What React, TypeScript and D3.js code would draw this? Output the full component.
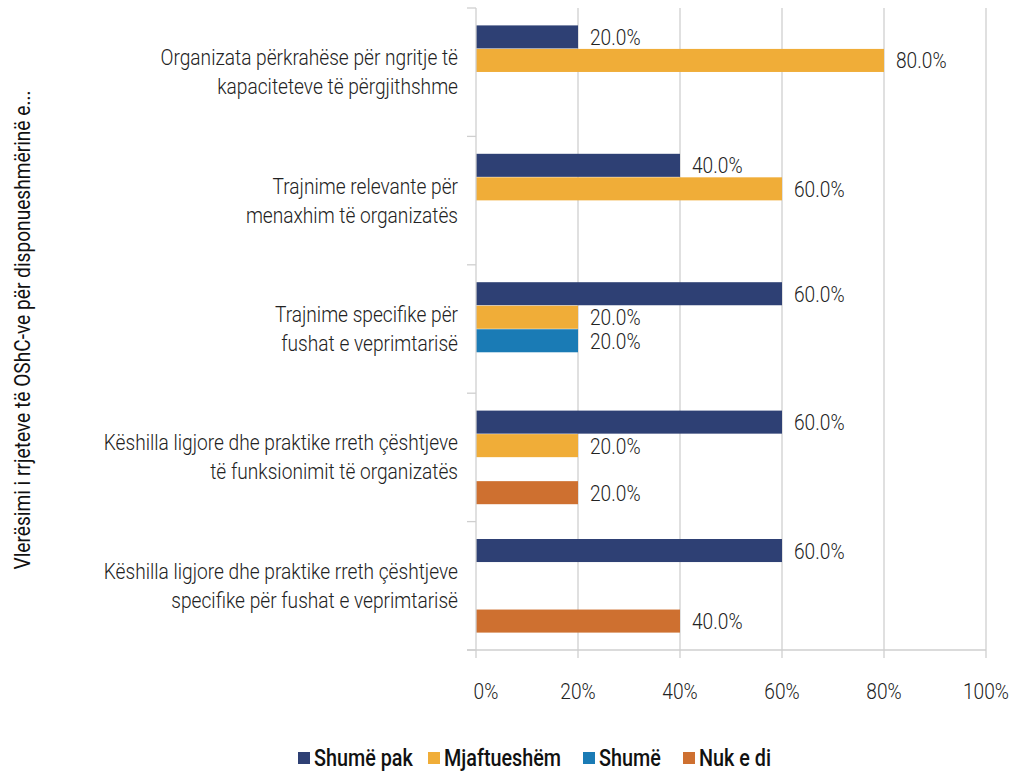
import React from 'react';
import * as d3 from 'd3';

const categories = [
  ['Organizata përkrahëse për ngritje të', 'kapaciteteve të përgjithshme'],
  ['Trajnime relevante për', 'menaxhim të organizatës'],
  ['Trajnime specifike për', 'fushat e veprimtarisë'],
  ['Këshilla ligjore dhe praktike rreth çështjeve', 'të funksionimit të organizatës'],
  ['Këshilla ligjore dhe praktike rreth çështjeve', 'specifike për fushat e veprimtarisë'],
];
const seriesNames = ['Shumë pak', 'Mjaftueshëm', 'Shumë', 'Nuk e di'];
const shumePak = [20, 40, 60, 60, 60];
const mjaftueshem = [80, 60, 20, 20, null];
const shume = [null, null, 20, null, null];
const nukEDi = [null, null, null, 20, 40];
const xTicks = [0, 20, 40, 60, 80, 100];
const yTitle = 'Vlerësimi i rrjeteve të OShC-ve për disponueshmërinë e...';

const colors = ['#2E4074', '#F0AD38', '#1A7BB5', '#CE7030'];
const allSeries = [shumePak, mjaftueshem, shume, nukEDi];

const FONT = 'Roboto, sans-serif';
const SX = 0.87; // narrow the font a bit, the original is a condensed face

const App = () => {
  const width = 1010;
  const height = 771;
  const left = 476, right = 986, top = 8, bottom = 650;

  const x = d3.scaleLinear().domain([0, 100]).range([left, right]);
  const y = d3.scaleBand<number>().domain(d3.range(categories.length)).range([top, bottom]);
  const inner = d3.scaleBand<number>()
    .domain(d3.range(seriesNames.length))
    .range([0, y.bandwidth()])
    .paddingInner(0.02)
    .paddingOuter(0.74);

  const cond = (tx: number, ty: number, s = SX) => `translate(${tx},${ty}) scale(${s},1)`;

  return (
    <svg width={width} height={height} style={{ position: 'absolute', left: 0, top: 0 }}>
      <rect width={width} height={height} fill="#fff" />

      {/* vertical gridlines */}
      {xTicks.slice(1).map(t => (
        <line key={t} x1={x(t)} x2={x(t)} y1={top} y2={bottom} stroke="#cfcfcf" strokeWidth={1.3} />
      ))}

      {/* bars */}
      {allSeries.map((vals, si) =>
        vals.map((v, ci) => v == null ? null : (
          <rect key={`${si}-${ci}`}
            x={x(0)} y={y(ci)! + inner(si)!}
            width={x(v) - x(0)} height={inner.bandwidth()}
            fill={colors[si]} />
        ))
      )}

      {/* data labels */}
      {allSeries.map((vals, si) =>
        vals.map((v, ci) => v == null ? null : (
          <g key={`l${si}-${ci}`} transform={cond(x(v) + 12, y(ci)! + inner(si)! + inner.bandwidth() / 2 + 8)}>
            <text fontFamily={FONT} fontWeight={300} fontSize={22} fill="#222">{v.toFixed(1)}%</text>
          </g>
        ))
      )}

      {/* category axis */}
      <line x1={left} x2={left} y1={top} y2={bottom} stroke="#cfcfcf" strokeWidth={1.3} />
      {d3.range(categories.length + 1).map(i => {
        const yy = i < categories.length ? y(i)! : bottom;
        return <line key={i} x1={left - 9} x2={left} y1={yy} y2={yy} stroke="#cfcfcf" strokeWidth={1.3} />;
      })}
      {categories.map((lines, ci) => (
        <g key={ci}>
          {lines.map((ln, li) => (
            <g key={li} transform={cond(458, y(ci)! + y.bandwidth() / 2 - 7 + li * 29)}>
              <text textAnchor="end" fontFamily={FONT} fontWeight={300} fontSize={22} fill="#222">{ln}</text>
            </g>
          ))}
        </g>
      ))}

      {/* value axis */}
      <line x1={left - 9} x2={right} y1={bottom} y2={bottom} stroke="#cfcfcf" strokeWidth={1.3} />
      {xTicks.map(t => (
        <g key={t}>
          <line x1={x(t)} x2={x(t)} y1={bottom} y2={bottom + 8} stroke="#cfcfcf" strokeWidth={1.3} />
          <g transform={cond(x(t) + (t === 0 ? 10 : 0), 699)}>
            <text textAnchor="middle" fontFamily={FONT} fontWeight={300} fontSize={22} fill="#222">{t}%</text>
          </g>
        </g>
      ))}

      {/* axis title */}
      <g transform={`translate(30,330) rotate(-90) scale(${SX},1)`}>
        <text textAnchor="middle" fontFamily={FONT} fontWeight={400} fontSize={22} fill="#111">{yTitle}</text>
      </g>

      {/* legend */}
      {seriesNames.map((name, i) => {
        const lx = [298, 428, 583, 683][i];
        return (
          <g key={name}>
            <rect x={lx} y={752} width={12} height={12} fill={colors[i]} />
            <g transform={cond(lx + 16, 766, 0.86)}>
              <text fontFamily={FONT} fontWeight={500} fontSize={23} fill="#111">{name}</text>
            </g>
          </g>
        );
      })}
    </svg>
  );
};

export default App;
